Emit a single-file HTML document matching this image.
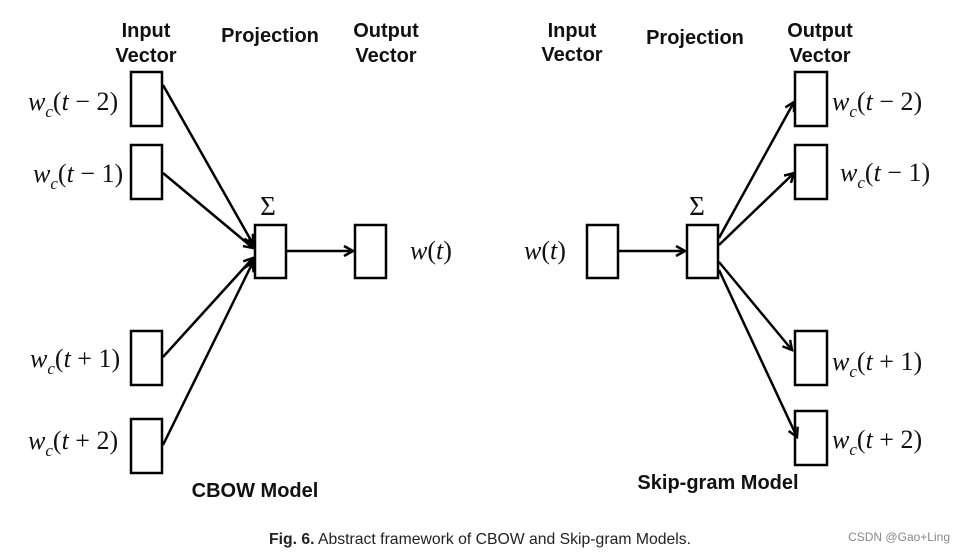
<!DOCTYPE html>
<html><head><meta charset="utf-8"><style>
body{margin:0;background:#fff;}
</style></head><body>
<svg width="966" height="553" viewBox="0 0 966 553" xmlns="http://www.w3.org/2000/svg">
<defs><marker id="a" markerWidth="12" markerHeight="12" refX="10" refY="6" orient="auto" markerUnits="userSpaceOnUse"><path d="M1,1 L10,6 L1,11" fill="none" stroke="#000" stroke-width="2.5"/></marker></defs>
<g font-family="Liberation Sans, sans-serif" font-weight="bold" font-size="20" text-anchor="middle" fill="#111">
<text x="146" y="37">Input</text><text x="146" y="62">Vector</text>
<text x="270" y="42">Projection</text>
<text x="386" y="37">Output</text><text x="386" y="62">Vector</text>
<text x="572" y="37">Input</text><text x="572" y="61">Vector</text>
<text x="695" y="44">Projection</text>
<text x="820" y="37">Output</text><text x="820" y="62">Vector</text>
<text x="255" y="497">CBOW Model</text>
<text x="718" y="489">Skip-gram Model</text>
</g>
<g fill="none" stroke="#000" stroke-width="2.5">
<rect x="131" y="72" width="31" height="54"/><rect x="131" y="145" width="31" height="54"/>
<rect x="131" y="331" width="31" height="54"/><rect x="131" y="419" width="31" height="54"/>
<rect x="255" y="225" width="31" height="53"/><rect x="355" y="225" width="31" height="53"/>
<rect x="587" y="225" width="31" height="53"/><rect x="687" y="225" width="31" height="53"/>
<rect x="795" y="72" width="32" height="54"/><rect x="795" y="145" width="32" height="54"/>
<rect x="795" y="331" width="32" height="54"/><rect x="795" y="411" width="32" height="54"/>
</g>
<g stroke="#000" stroke-width="2.5" marker-end="url(#a)">
<line x1="163" y1="85" x2="253" y2="244"/><line x1="163" y1="173" x2="253" y2="248"/>
<line x1="163" y1="357" x2="253" y2="258"/><line x1="163" y1="445" x2="253" y2="262"/>
<line x1="286" y1="251" x2="353" y2="251"/>
<line x1="618" y1="251" x2="685" y2="251"/>
<line x1="719" y1="238" x2="794" y2="102"/><line x1="719" y1="245" x2="794" y2="173"/>
<line x1="719" y1="262" x2="792" y2="350"/><line x1="719" y1="270" x2="797" y2="437"/>
</g>
<g font-family="Liberation Serif, serif" font-style="italic" font-size="26" fill="#111">
<text x="28" y="110">w<tspan font-size="17" dy="7">c</tspan><tspan dy="-7" font-style="normal">(</tspan>t<tspan font-style="normal"> − 2)</tspan></text>
<text x="33" y="182">w<tspan font-size="17" dy="7">c</tspan><tspan dy="-7" font-style="normal">(</tspan>t<tspan font-style="normal"> − 1)</tspan></text>
<text x="30" y="367">w<tspan font-size="17" dy="7">c</tspan><tspan dy="-7" font-style="normal">(</tspan>t<tspan font-style="normal"> + 1)</tspan></text>
<text x="28" y="449">w<tspan font-size="17" dy="7">c</tspan><tspan dy="-7" font-style="normal">(</tspan>t<tspan font-style="normal"> + 2)</tspan></text>
<text x="410" y="259">w<tspan font-style="normal">(</tspan>t<tspan font-style="normal">)</tspan></text>
<text x="524" y="259">w<tspan font-style="normal">(</tspan>t<tspan font-style="normal">)</tspan></text>
<text x="832" y="110">w<tspan font-size="17" dy="7">c</tspan><tspan dy="-7" font-style="normal">(</tspan>t<tspan font-style="normal"> − 2)</tspan></text>
<text x="840" y="181">w<tspan font-size="17" dy="7">c</tspan><tspan dy="-7" font-style="normal">(</tspan>t<tspan font-style="normal"> − 1)</tspan></text>
<text x="832" y="370">w<tspan font-size="17" dy="7">c</tspan><tspan dy="-7" font-style="normal">(</tspan>t<tspan font-style="normal"> + 1)</tspan></text>
<text x="832" y="448">w<tspan font-size="17" dy="7">c</tspan><tspan dy="-7" font-style="normal">(</tspan>t<tspan font-style="normal"> + 2)</tspan></text>
</g>
<g font-family="Liberation Serif, serif" font-size="27" fill="#111" text-anchor="middle">
<text x="268" y="215">Σ</text><text x="697" y="215">Σ</text>
</g>
<text x="269" y="544" textLength="422" lengthAdjust="spacingAndGlyphs" font-family="Liberation Sans Narrow, Liberation Sans, sans-serif" font-size="16" fill="#222"><tspan font-weight="bold">Fig. 6.</tspan> Abstract framework of CBOW and Skip-gram Models.</text>
<text x="950" y="541" text-anchor="end" font-family="Liberation Sans, sans-serif" font-size="12" fill="#888">CSDN @Gao+Ling</text>
</svg>
</body></html>
